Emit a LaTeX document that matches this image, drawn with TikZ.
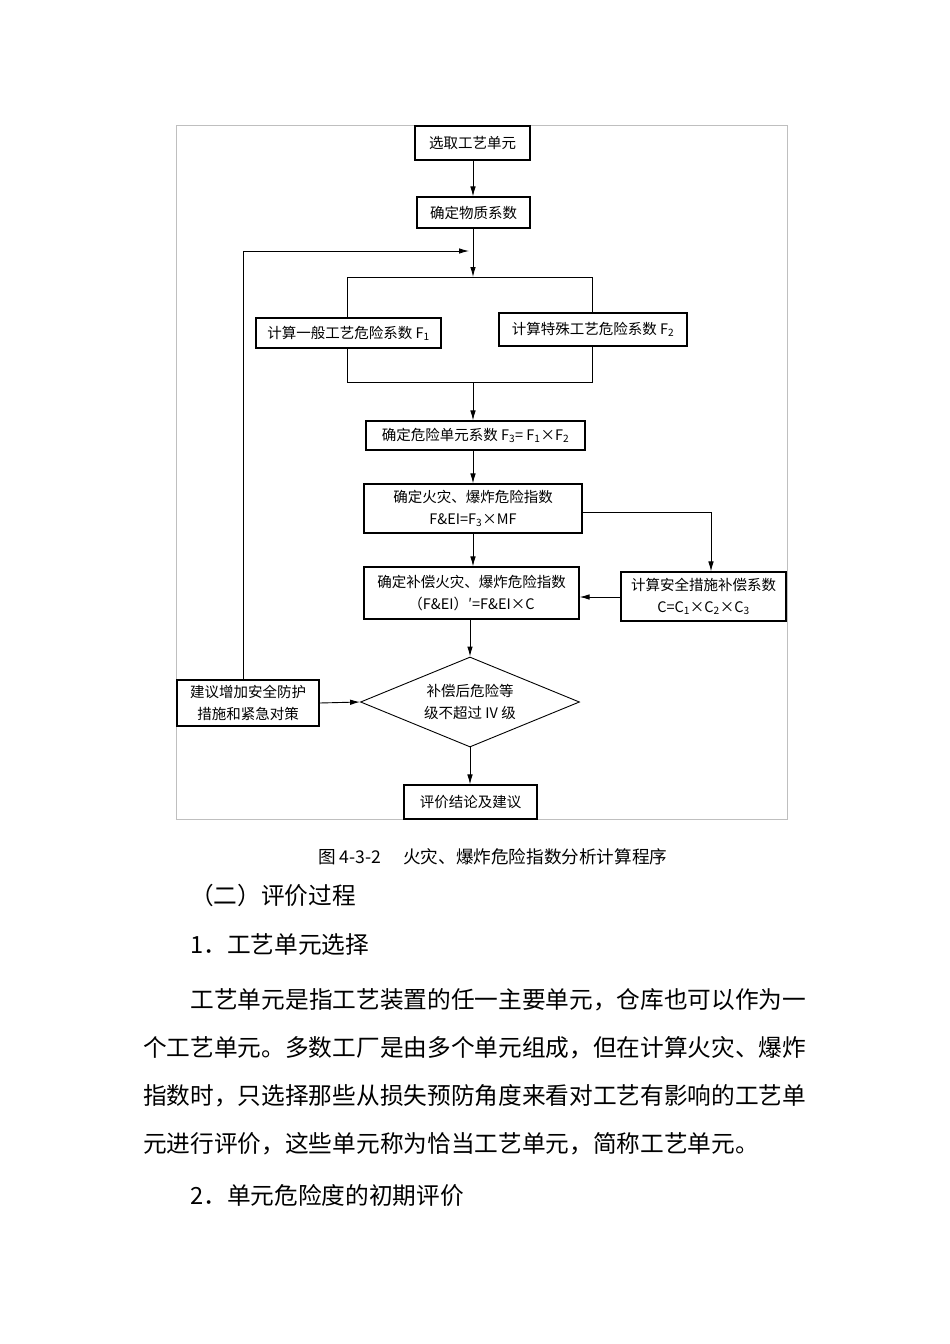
\documentclass[tikz,border=0pt]{standalone}
\usepackage{fontspec}
\setmainfont{Noto Sans CJK SC}
\usetikzlibrary{arrows.meta,shapes.geometric}
\tikzset{
  box/.style={draw=black, line width=1.1pt, rectangle, inner sep=0pt, align=center,
    font=\fontsize{14.5}{22}\selectfont},
  conn/.style={line width=0.9pt},
  arr/.style={line width=0.9pt, -{Latex[length=10pt,width=5.5pt]}},
  para/.style={anchor=west, inner sep=0pt, font=\fontsize{23.68}{28}\selectfont},
  captxt/.style={anchor=west, inner sep=0pt, font=\fontsize{17.6}{20}\selectfont},
}
\begin{document}
\begin{tikzpicture}[x=1pt,y=-1pt]
\useasboundingbox[fill=white] (0,0) rectangle (950,1344);
% frame
\draw[draw=black!25, line width=0.8pt] (176,125) rectangle (787,819);
% nodes
\node[box, minimum width=115pt, minimum height=34pt] (b1) at (472.5,143) {选取工艺单元};
\node[box, minimum width=113pt, minimum height=31pt] (b2) at (473.5,212.5) {确定物质系数};
\node[box, minimum width=185pt, minimum height=30pt] (f1) at (348.5,333) {计算一般工艺危险系数 F\textsubscript{1}};
\node[box, minimum width=188pt, minimum height=33pt] (f2) at (593,329.5) {计算特殊工艺危险系数 F\textsubscript{2}};
\node[box, minimum width=219pt, minimum height=29pt] (f3) at (475.5,435.5) {确定危险单元系数 F\textsubscript{3}= F\textsubscript{1}×F\textsubscript{2}};
\node[box, minimum width=218pt, minimum height=49pt] (fei) at (473,508.5) {确定火灾、爆炸危险指数\\F\&EI=F\textsubscript{3}×MF};
\node[box, minimum width=165pt, minimum height=49pt] (cc) at (703.5,596.5) {计算安全措施补偿系数\\C=C\textsubscript{1}×C\textsubscript{2}×C\textsubscript{3}};
\node[box, minimum width=215pt, minimum height=52pt] (fei2) at (471.5,593) {确定补偿火灾、爆炸危险指数\\（F\&EI）′=F\&EI×C};
\node[box, diamond, line width=0.9pt, aspect=2.43, minimum width=219pt, minimum height=90pt] (dia) at (470,702) {补偿后危险等\\级不超过 IV 级};
\node[box, minimum width=142pt, minimum height=46pt] (adv) at (248,703) {建议增加安全防护\\措施和紧急对策};
\node[box, minimum width=133pt, minimum height=34pt] (res) at (470.5,802) {评价结论及建议};
% helper coordinates
\coordinate (sp) at (473,277);
\coordinate (spl) at (347,277);
\coordinate (spr) at (592,277);
\coordinate (mg) at (473,382);
\coordinate (mgl) at (347,382);
\coordinate (mgr) at (592,382);
\coordinate (fb) at (469,251);
\coordinate (fbc) at (243,251);
\coordinate (rt) at (711,512);
% connectors
\draw[arr] (b1.south -| 473,0) -- (b2.north -| 473,0);
\draw[arr] (b2.south -| 473,0) -- (sp);
\draw[conn] (spl) -- (spr);
\draw[conn] (spl) -- (f1.north -| spl);
\draw[conn] (spr) -- (f2.north -| spr);
\draw[conn] (f1.south -| mgl) -- (mgl) -- (mgr) -- (f2.south -| mgr);
\draw[arr] (mg) -- (f3.north -| mg);
\draw[arr] (f3.south -| 473,0) -- (fei.north -| 473,0);
\draw[arr] (fei.south -| 473,0) -- (fei2.north -| 473,0);
\draw[conn] (fei.east |- rt) -- (rt);
\draw[arr] (rt) -- (cc.north -| rt);
\draw[arr] (cc.west |- 0,597) -- (fei2.east |- 0,597);
\draw[arr] (fei2.south -| dia.north) -- (dia.north);
\draw[arr] (adv.east) -- (dia.west);
\draw[arr] (adv.north -| fbc) -- (fbc) -- (fb);
\draw[arr] (dia.south) -- (res.north -| dia.south);
% caption and text
\node[captxt] (capa) at (318,857) {图 4-3-2};
\node[captxt] (capb) at (403,857) {火灾、爆炸危险指数分析计算程序};
\node[para] (h2) at (190,895) {（二）评价过程};
\node[para] (h3) at (190,945) {1．工艺单元选择};
\node[para] (p1) at (190.4,1000) {工艺单元是指工艺装置的任一主要单元，仓库也可以作为一};
\node[para] (p2) at (143,1048) {个工艺单元。多数工厂是由多个单元组成，但在计算火灾、爆炸};
\node[para] (p3) at (143,1096) {指数时，只选择那些从损失预防角度来看对工艺有影响的工艺单};
\node[para] (p4) at (143,1144) {元进行评价，这些单元称为恰当工艺单元，简称工艺单元。};
\node[para] (h4) at (190,1195) {2．单元危险度的初期评价};
\end{tikzpicture}
\end{document}
